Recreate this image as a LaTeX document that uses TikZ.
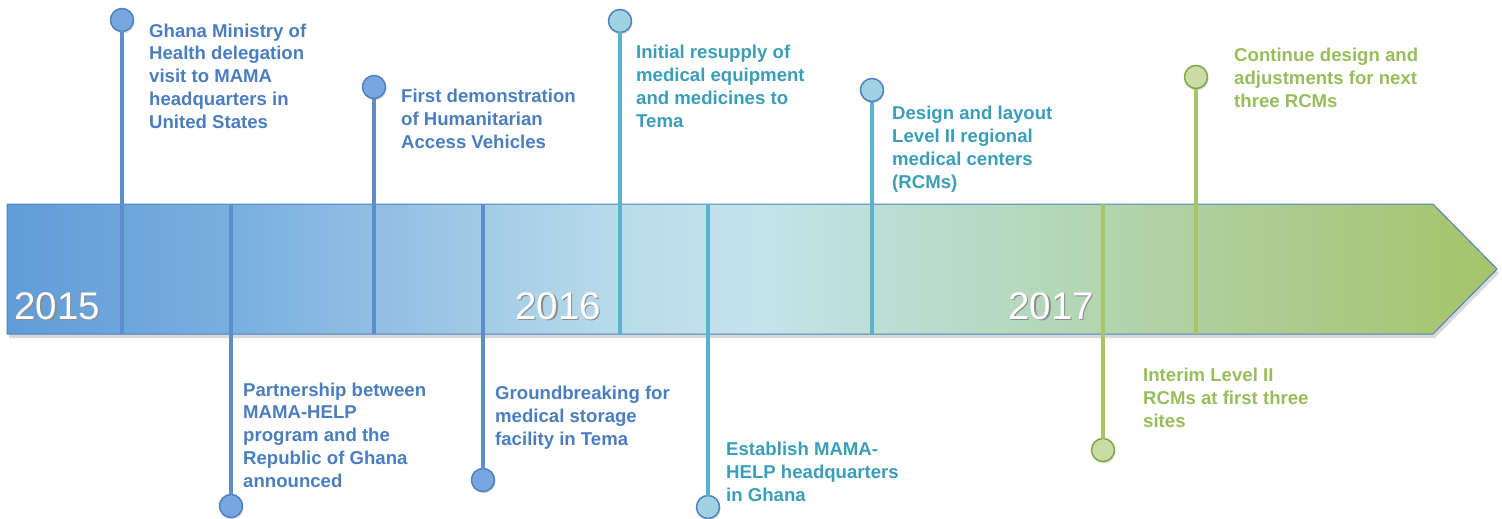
\documentclass[tikz,border=0pt]{standalone}
\usepackage{fontspec}
\setmainfont{Liberation Sans}
\usepackage{tikz}
\usetikzlibrary{positioning,shadows}
\definecolor{bluetxt}{RGB}{74,126,192}
\definecolor{blueline}{RGB}{92,142,203}
\definecolor{bluefill}{RGB}{120,166,222}
\definecolor{blueedge}{RGB}{79,129,189}
\definecolor{tealtxt}{RGB}{58,158,185}
\definecolor{tealline}{RGB}{88,180,206}
\definecolor{tealfill}{RGB}{160,210,226}
\definecolor{greentxt}{RGB}{152,190,92}
\definecolor{greenline}{RGB}{166,199,104}
\definecolor{greenfill}{RGB}{202,220,166}
\definecolor{greenedge}{RGB}{130,165,72}
% band colours, left to right
\definecolor{bs0}{RGB}{96,156,214}
\definecolor{bs1}{RGB}{122,176,224}
\definecolor{bs2}{RGB}{150,192,228}
\definecolor{bs3}{RGB}{165,205,230}
\definecolor{bs4}{RGB}{185,220,235}
\definecolor{bs5}{RGB}{195,228,235}
\definecolor{bs6}{RGB}{188,222,214}
\definecolor{bs7}{RGB}{180,215,185}
\definecolor{bs8}{RGB}{172,203,140}
\definecolor{bs9}{RGB}{166,196,104}
\pgfdeclarehorizontalshading{bandshade}{100bp}{
  color(0bp)=(bs0); color(25bp)=(bs0); color(32.8bp)=(bs1);
  color(38.2bp)=(bs2); color(41.5bp)=(bs3); color(45.6bp)=(bs4);
  color(50.3bp)=(bs5); color(54.3bp)=(bs6); color(60bp)=(bs7);
  color(68.4bp)=(bs8); color(75bp)=(bs9); color(100bp)=(bs9)}
\tikzset{
pin/.style = {circle, minimum size=#1, inner sep=0pt, outer sep=0pt, line width=1.5pt,
  drop shadow={opacity=0.25, shadow xshift=1pt, shadow yshift=-2pt}},
pin/.default = 23pt, % circle diameter in px
stem/.style = {line width=4pt},
% placed at the baseline of the last line
evt/.style = {anchor=base west, align=left, inner sep=0pt,
  font=\fontsize{18.6}{22.7}\selectfont\bfseries},
yr/.style = {anchor=base west, inner sep=0pt, text=white,
  font=\fontsize{38.5}{40}\selectfont}
}
\begin{document}
\begin{tikzpicture}[x=1pt,y=-1pt]
\useasboundingbox (0,0) rectangle (1502,519);
% the band
\fill[black, opacity=0.15] (9,208) -- (1435,208) -- (1499,273) -- (1435,338) -- (9,338) -- cycle;
\shade[shading=bandshade, draw=blueedge, line width=1pt]
  (7,204) -- (1433,204) -- (1497,269) -- (1433,334) -- (7,334) -- cycle;
% years
\node[yr, text=black!45] (y1s) at (15.5,320.5) {2015};
\node[yr] (y1) at (14,319) {2015};
\node[yr, text=black!45] (y2s) at (516.5,320.5) {2016};
\node[yr] (y2) at (515,319) {2016};
\node[yr, text=black!45] (y3s) at (1009.5,320.5) {2017};
\node[yr] (y3) at (1008,319) {2017};
% stem ends on the band
\coordinate (b1) at (122,334);
\coordinate (b2) at (231,204);
\coordinate (b3) at (374,334);
\coordinate (b4) at (483,204);
\coordinate (b5) at (620,334);
\coordinate (b6) at (708,204);
\coordinate (b7) at (872,334);
\coordinate (b8) at (1103,204);
\coordinate (b9) at (1196,334);
% 2015
\node[pin, fill=bluefill, draw=blueedge] (p1) at (122,20) {};
\draw[stem, blueline] (p1) -- (b1);
\node[evt, text=bluetxt] (t1) at (149,128) {Ghana Ministry of\\Health delegation\\visit to MAMA\\headquarters in\\United States};
\node[pin, fill=bluefill, draw=blueedge] (p2) at (231,506) {};
\draw[stem, blueline] (b2) -- (p2);
\node[evt, text=bluetxt] (t2) at (243,487) {Partnership between\\MAMA-HELP\\program and the\\Republic of Ghana\\announced};
\node[pin, fill=bluefill, draw=blueedge] (p3) at (374,87) {};
\draw[stem, blueline] (p3) -- (b3);
\node[evt, text=bluetxt] (t3) at (401,148) {First demonstration\\of Humanitarian\\Access Vehicles};
\node[pin, fill=bluefill, draw=blueedge] (p4) at (483,480) {};
\draw[stem, blueline] (b4) -- (p4);
\node[evt, text=bluetxt] (t4) at (495,445) {Groundbreaking for\\medical storage\\facility in Tema};
% 2016
\node[pin, fill=tealfill, draw=blueedge] (p5) at (620,21) {};
\draw[stem, tealline] (p5) -- (b5);
\node[evt, text=tealtxt] (t5) at (636,127) {Initial resupply of\\medical equipment\\and medicines to\\Tema};
\node[pin, fill=tealfill, draw=blueedge] (p6) at (708,507) {};
\draw[stem, tealline] (b6) -- (p6);
\node[evt, text=tealtxt] (t6) at (726,501) {Establish MAMA-\\HELP headquarters\\in Ghana};
\node[pin, fill=tealfill, draw=blueedge] (p7) at (872,90) {};
\draw[stem, tealline] (p7) -- (b7);
\node[evt, text=tealtxt] (t7) at (892,188) {Design and layout\\Level II regional\\medical centers\\(RCMs)};
% 2017
\node[pin, fill=greenfill, draw=greenedge] (p8) at (1103,450) {};
\draw[stem, greenline] (b8) -- (p8);
\node[evt, text=greentxt] (t8) at (1143,427) {Interim Level II\\RCMs at first three\\sites};
\node[pin, fill=greenfill, draw=greenedge] (p9) at (1196,77) {};
\draw[stem, greenline] (p9) -- (b9);
\node[evt, text=greentxt] (t9) at (1234,107) {Continue design and\\adjustments for next\\three RCMs};
\end{tikzpicture}
\end{document}
